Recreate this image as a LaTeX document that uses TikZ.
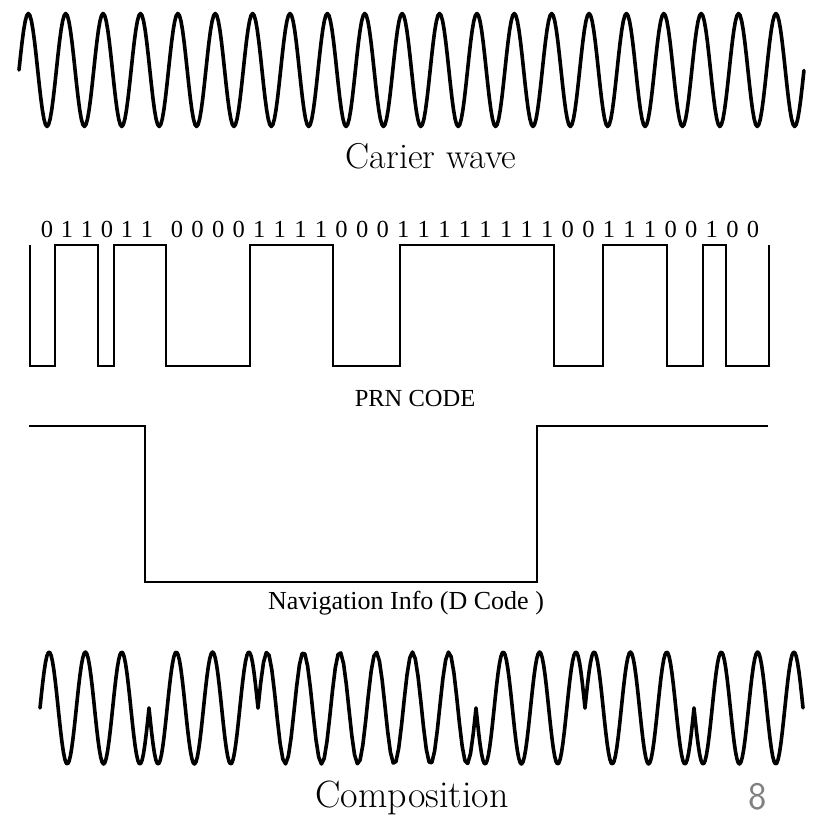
\documentclass[tikz,border=0pt]{standalone}
\usepackage{fontspec}
\newfontfamily\timesfont{Liberation Serif}
\begin{document}
\begin{tikzpicture}[x=1pt,y=-1pt,
  wave/.style={line width=3.6pt,line cap=round,line join=round},
  pulse/.style={line width=1.8pt,line join=miter},
  bit/.style={anchor=base,inner sep=0pt,font=\timesfont\fontsize{24.5}{24.5}\selectfont},
  title/.style={anchor=base,inner sep=0pt,font=\fontsize{36}{36}\selectfont},
  caption/.style={anchor=base,inner sep=0pt,font=\timesfont\fontsize{26}{26}\selectfont}]
\useasboundingbox (0,0) rectangle (817,817);
% carrier
\draw[wave] plot[domain=0:42,samples=505] ({19+\x*18.69},{70-56.5*sin(180*\x)});
\node[title] (carrier) at (431,168) {Carier wave};
% prn code
\foreach \b [count=\i from 0] in {0,1,1,0,1,1}
  \node[bit] (a\i) at ({47+20*\i},237) {\b};
\foreach \b [count=\i from 0] in {0,0,0,0,1,1,1,1,0,0,0,1,1,1,1,1,1,1,1,0,0,1,1,1,0,0,1,0,0}
  \node[bit] (b\i) at ({177+20.57*\i},237) {\b};
\draw[pulse] (30,245) -- (30,366) -- (55,366) -- (55,245) -- (98,245) -- (98,366)
  -- (114,366) -- (114,245) -- (166,245) -- (166,366) -- (250,366) -- (250,245)
  -- (333,245) -- (333,366) -- (400,366) -- (400,245) -- (554,245) -- (554,366)
  -- (603,366) -- (603,245) -- (667,245) -- (667,366) -- (703,366) -- (703,245)
  -- (726,245) -- (726,366) -- (769,366) -- (769,245);
\node[caption,font=\timesfont\fontsize{24.5}{24.5}\selectfont] (prn) at (415,406) {PRN CODE};
% navigation data
\draw[pulse] (29,426) -- (145,426) -- (145,582) -- (537,582) -- (537,426) -- (768,426);
\node[caption] (nav) at (406,609) {Navigation Info (D Code )};
% composition
\foreach \a/\b/\s in {0/6/1,6/12/-1,12/24/1,24/30/-1,30/36/1,36/42/-1}
  \draw[wave] plot[domain=\a:\b,samples=80] ({40+\x*18.167},{708-\s*56*sin(180*\x)});
\node[title,font=\fontsize{38}{38}\selectfont] (comp) at (412,807) {Composition};
\node[anchor=base,inner sep=0pt,text=gray,font=\sffamily\fontsize{39}{39}\selectfont] (page) at (758,809) {8};
\end{tikzpicture}
\end{document}
